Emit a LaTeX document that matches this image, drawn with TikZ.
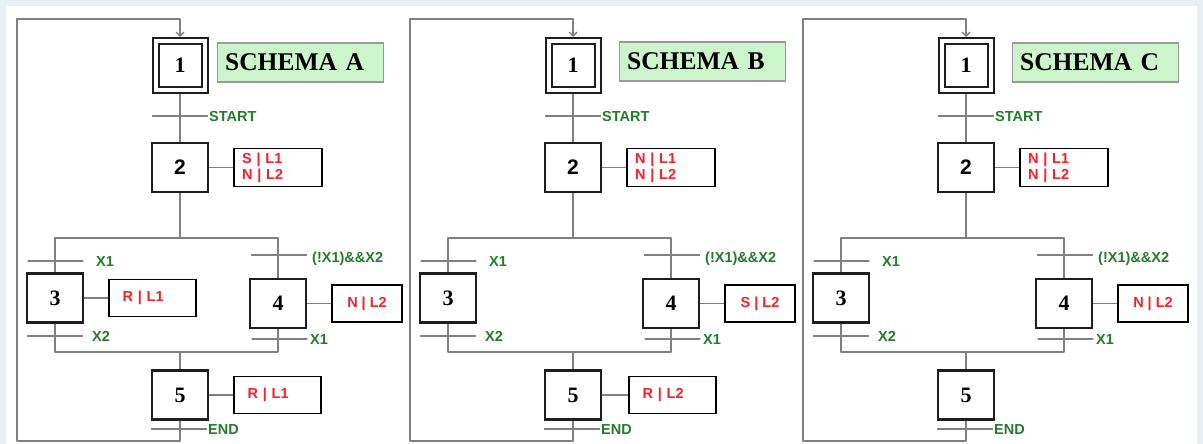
\documentclass[tikz,border=0pt]{standalone}
\usepackage{fontspec}
\setmainfont{Liberation Serif}
\setsansfont{Liberation Sans}
\usetikzlibrary{positioning,arrows.meta}
\definecolor{bgblue}{RGB}{232,240,246}
\definecolor{linegray}{RGB}{128,128,128}
\definecolor{stepcol}{RGB}{30,30,30}
\definecolor{condgreen}{RGB}{34,125,40}
\definecolor{actred}{RGB}{250,30,40}
\definecolor{schemagreen}{RGB}{204,245,204}

% common skeleton of one grafcet
\newcommand\grafcet{%
  \node[initstep] (s1) at (180,65.5) {1};
  \node[stepbox, font=\sffamily\bfseries\fontsize{21}{21}\selectfont] (s2) at (180,167.5) {2};
  \node[stepbox] (s3) at (55,298) {3};
  \node[stepbox] (s4) at (278,303.5) {4};
  \node[stepbox] (s5) at (180,395) {5};
  \coordinate (div) at (180,238);
  \coordinate (conv) at (180,352);
  \coordinate (loopbot) at (17,441);
  \coordinate (looptop) at (17,19);
  % links
  \draw[link] (s1) -- (s2);
  \draw[link] (s2) -- (div);
  \draw[link] (s3.north) -- (s3.north |- div) -- (s4.north |- div) -- (s4.north);
  \draw[link] (s3.south) -- (s3.south |- conv) -- (s4.south |- conv) -- (s4.south);
  \draw[link] (conv) -- (s5);
  \draw[link,->] (s5) -- (s5 |- loopbot) -- (loopbot) -- (looptop) -- (s1 |- looptop) -- (s1.north);
  % transitions
  \node[trans] (t12) at (180,116) {};
  \node[cond] (c12) at (209,116) {START};
  \node[trans] (t23) at (55.5,261) {};
  \node[cond] (c23) at (96,261) {X1};
  \node[trans] (t24) at (279,255) {};
  \node[cond] (c24) at (312,257) {(!X1)\&\&X2};
  \node[trans] (t35) at (55,336) {};
  \node[cond] (c35) at (92,336) {X2};
  \node[trans] (t45) at (279.5,339) {};
  \node[cond] (c45) at (310,339) {X1};
  \node[trans] (t51) at (179,429) {};
  \node[cond] (c51) at (208,429) {END};
}

\begin{document}
\begin{tikzpicture}[x=1pt, y=-1pt, line join=round,
    >={Straight Barb[length=4pt,width=8pt]},
    link/.style={draw=linegray, line width=1.3pt},
    stepbox/.style={draw=stepcol, line width=2.2pt, line join=miter, minimum width=56pt,
      minimum height=49pt, inner sep=0pt,
      font=\rmfamily\bfseries\fontsize{22}{22}\selectfont},
    initstep/.style={draw=stepcol, line width=2pt, line join=miter, double,
      double distance=4pt, minimum size=49pt, inner sep=0pt, outer sep=4pt,
      font=\rmfamily\bfseries\fontsize{22}{22}\selectfont},
    trans/.style={draw=linegray, line width=1.3pt, minimum width=55pt,
      minimum height=0pt, inner sep=0pt, outer sep=0pt},
    cond/.style={anchor=west, inner sep=0pt, text=condgreen, text height=10.4pt,
      text depth=0pt, font=\sffamily\bfseries\fontsize{14.5}{16}\selectfont},
    act/.style={draw=black, line width=1.8pt, line join=miter, text=actred, inner ysep=0pt,
      minimum height=37pt, font=\sffamily\bfseries\fontsize{14.5}{16}\selectfont},
    acttwo/.style={act, minimum height=38pt, text width=72pt, inner xsep=8pt, align=left},
    actwide/.style={act, text width=60pt, inner xsep=13.5pt, align=left},
    actnarrow/.style={act, minimum width=70pt, inner xsep=0pt},
    schemabox/.style={draw=gray!80, fill=schemagreen, line width=1.2pt, line join=miter,
      minimum height=39pt, text width=150pt, inner xsep=8pt, align=left,
      font=\rmfamily\bfseries\fontsize{25.5}{26}\selectfont}]
  \useasboundingbox (0,0) rectangle (1203,444);
  \fill[bgblue] (0,0) rectangle (1203,444);
  \fill[white] (6,6) rectangle (1197,444);

  % schema A
  \begin{scope}
    \grafcet
    \node[schemabox, right=8pt of s1, yshift=3pt] (title) {SCHEMA A};
    \node[acttwo, right=24pt of s2] (a2) {S | L1\\N | L2};
    \node[actwide, right=24pt of s3] (a3) {R | L1};
    \node[actnarrow, right=24pt of s4] (a4) {N | L2};
    \node[actwide, right=24pt of s5] (a5) {R | L1};
    \draw[link] (s2) -- (a2) (s3) -- (a3) (s4) -- (a4) (s5) -- (a5);
  \end{scope}

  % schema B
  \begin{scope}[xshift=393pt]
    \grafcet
    \node[schemabox, right=17pt of s1, yshift=4pt] (title) {SCHEMA B};
    \node[acttwo, right=24pt of s2] (a2) {N | L1\\N | L2};
    \node[actnarrow, right=24pt of s4] (a4) {S | L2};
    \node[actwide, right=26pt of s5] (a5) {R | L2};
    \draw[link] (s2) -- (a2) (s4) -- (a4) (s5) -- (a5);
  \end{scope}

  % schema C
  \begin{scope}[xshift=786pt]
    \grafcet
    \node[schemabox, right=17pt of s1, yshift=3pt] (title) {SCHEMA C};
    \node[acttwo, right=24pt of s2] (a2) {N | L1\\N | L2};
    \node[actnarrow, right=24pt of s4] (a4) {N | L2};
    \draw[link] (s2) -- (a2) (s4) -- (a4);
  \end{scope}
\end{tikzpicture}
\end{document}
